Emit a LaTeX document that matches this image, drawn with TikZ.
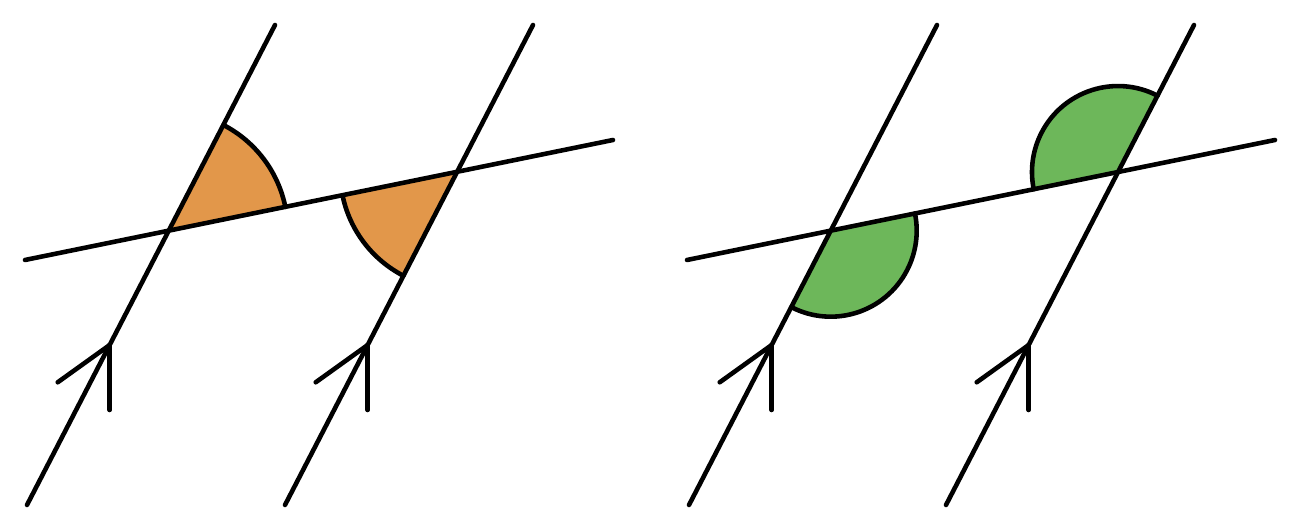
\documentclass[tikz,border=0pt]{standalone}
\usetikzlibrary{calc}
\definecolor{anglorange}{HTML}{E2974A}
\definecolor{anglgreen}{HTML}{6DB75A}
\begin{document}
\begin{tikzpicture}[x=0.01cm,y=0.01cm,line cap=round,line join=round,
  ln/.style={line width=1.3pt,black},
  arrowarm/.style={line width=1.3pt,black}]
\useasboundingbox (0,0) rectangle (1300,531);
\fill[white] (0,0) rectangle (1300,531);
% ---------- left panel ----------
\coordinate (La1) at (27,26);  \coordinate (Lb1) at (275,506);
\coordinate (La2) at (285,26); \coordinate (Lb2) at (533,506);
\coordinate (Lt1) at (25,271); \coordinate (Lt2) at (613,391);
\coordinate (LP) at (intersection of La1--Lb1 and Lt1--Lt2);
\coordinate (LQ) at (intersection of La2--Lb2 and Lt1--Lt2);
\fill[anglorange] (LP) -- ++(11.53:119) arc[start angle=11.53,end angle=62.67,radius=119] -- cycle;
\fill[anglorange] (LQ) -- ++(191.53:117) arc[start angle=191.53,end angle=242.67,radius=117] -- cycle;
\draw[ln] (La1) -- (Lb1);
\draw[ln] (La2) -- (Lb2);
\draw[ln] (Lt1) -- (Lt2);
\draw[ln] ($(LP)+(11.53:119)$) arc[start angle=11.53,end angle=62.67,radius=119];
\draw[ln] ($(LQ)+(191.53:117)$) arc[start angle=191.53,end angle=242.67,radius=117];
\coordinate (Lh1) at (109.7,186);
\coordinate (Lh2) at (367.7,186);
\draw[arrowarm] (Lh1) -- ++(270:65);
\draw[arrowarm] (Lh1) -- ++(215.67:64);
\draw[arrowarm] (Lh2) -- ++(270:65);
\draw[arrowarm] (Lh2) -- ++(215.67:64);
% ---------- right panel ----------
\coordinate (Ra1) at (689,26);  \coordinate (Rb1) at (937,506);
\coordinate (Ra2) at (946,26);  \coordinate (Rb2) at (1194,506);
\coordinate (Rt1) at (687,271); \coordinate (Rt2) at (1275,391);
\coordinate (RP) at (intersection of Ra1--Rb1 and Rt1--Rt2);
\coordinate (RQ) at (intersection of Ra2--Rb2 and Rt1--Rt2);
\fill[anglgreen] (RP) -- ++(242.67:86) arc[start angle=242.67,end angle=371.53,radius=86] -- cycle;
\fill[anglgreen] (RQ) -- ++(62.67:86) arc[start angle=62.67,end angle=191.53,radius=86] -- cycle;
\draw[ln] (Ra1) -- (Rb1);
\draw[ln] (Ra2) -- (Rb2);
\draw[ln] (Rt1) -- (Rt2);
\draw[ln] ($(RP)+(242.67:86)$) arc[start angle=242.67,end angle=371.53,radius=86];
\draw[ln] ($(RQ)+(62.67:86)$) arc[start angle=62.67,end angle=191.53,radius=86];
\coordinate (Rh1) at (771.7,186);
\coordinate (Rh2) at (1028.7,186);
\draw[arrowarm] (Rh1) -- ++(270:65);
\draw[arrowarm] (Rh1) -- ++(215.67:64);
\draw[arrowarm] (Rh2) -- ++(270:65);
\draw[arrowarm] (Rh2) -- ++(215.67:64);
\end{tikzpicture}
\end{document}
